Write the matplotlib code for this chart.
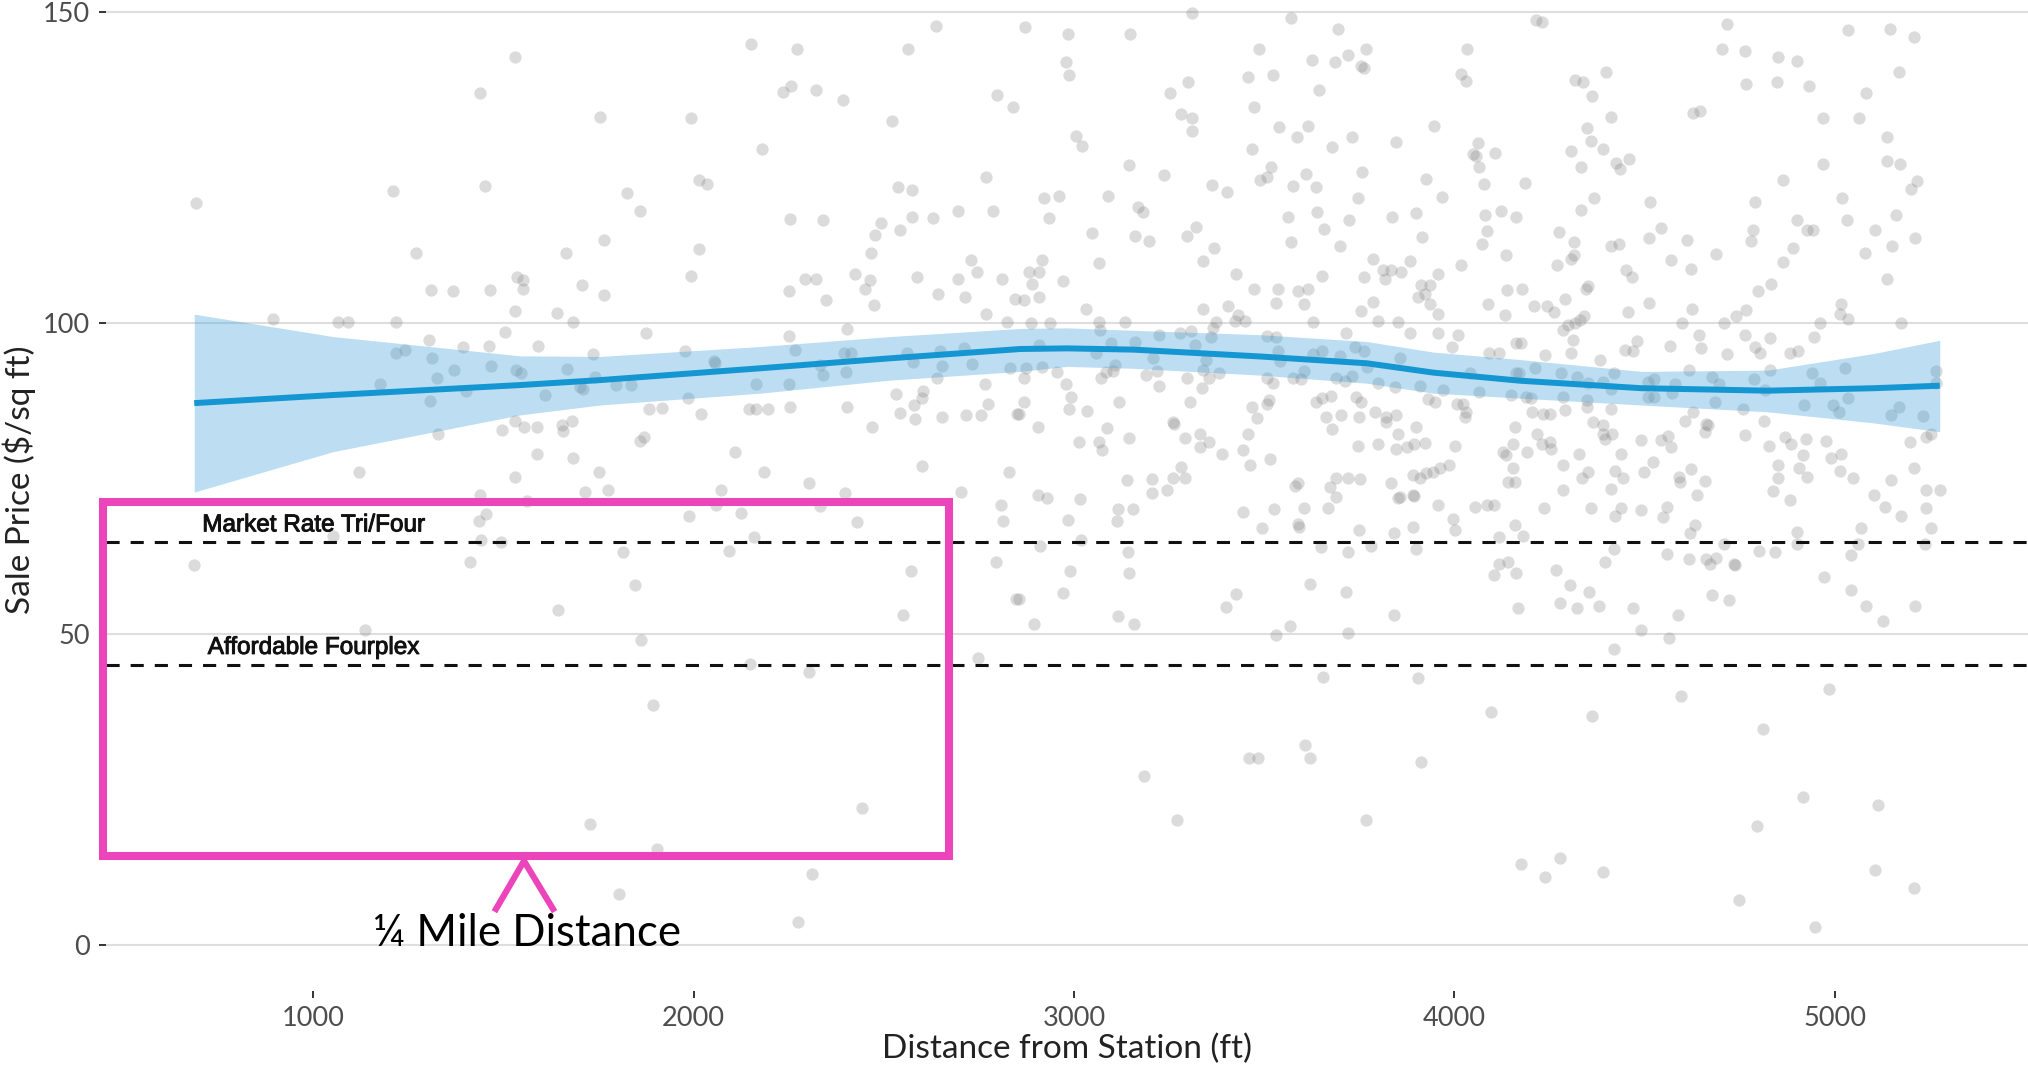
import numpy as np
import matplotlib.pyplot as plt
import matplotlib.patheffects as pe
from matplotlib.patches import Rectangle
from matplotlib.lines import Line2D

# sales, (distance from station ft, sale price $/sq ft)
band_near = [
    (1529, 142.7), (1437, 136.9), (1451, 122.0), (1210, 121.2), (691, 119.3), (1269, 111.2), (1536, 107.4),
    (1309, 105.3), (1367, 105.1), (1464, 105.3), (1529, 101.9), (893, 100.6), (1065, 100.1), (1091, 100.1),
    (1217, 100.1), (1503, 98.5), (1303, 97.3), (1394, 96.1), (1462, 96.3), (1240, 95.6), (1218, 95.1),
    (1311, 94.4), (1468, 93.1), (1369, 92.5), (1534, 92.5), (1324, 91.1), (1176, 90.1), (1401, 89.1),
    (1308, 87.5), (1531, 84.3), (1496, 82.7), (1328, 82.2), (1119, 76.1), (1529, 75.3), (1437, 72.3),
    (686, 61.1), (1052, 65.7), (1453, 69.2), (1435, 68.1), (1440, 65.1), (1493, 64.7), (1413, 61.6),
    (1135, 50.7),
]

band_mid = [
    (2151, 144.8), (2272, 144.0), (2637, 147.8), (2563, 144.0), (2236, 137.1), (2256, 138.0), (2321, 137.4),
    (2392, 135.9), (1754, 133.1), (1992, 132.9), (2521, 132.4), (2179, 128.0), (2797, 136.6), (2840, 134.7),
    (1824, 120.9), (1860, 118.0), (2014, 123.0), (2036, 122.4), (2537, 121.8), (2574, 121.3), (2768, 123.5),
    (1765, 113.3), (1664, 111.2), (2014, 111.8), (2253, 116.7), (2341, 116.6), (2492, 116.1), (2477, 114.2),
    (2543, 115.0), (2574, 117.0), (2630, 116.8), (2695, 118.0), (2787, 118.0), (2466, 111.2), (2728, 110.1),
    (2745, 108.1), (2810, 107.0), (1551, 106.9), (1551, 105.4), (1706, 106.1), (1765, 104.4), (1994, 107.6),
    (2251, 105.1), (2293, 107.0), (2321, 107.0), (2424, 107.8), (2464, 106.9), (2451, 105.4), (2347, 103.6),
    (2475, 102.8), (2586, 107.3), (2643, 104.6), (2695, 107.0), (2714, 104.1), (2844, 103.8), (1641, 101.6),
    (1684, 100.1), (2768, 101.5), (2823, 100.2), (1874, 98.4), (1591, 96.3), (1735, 95.0), (1977, 95.5),
    (2251, 97.9), (2403, 99.0), (2267, 95.7), (2396, 95.2), (2413, 95.2), (2562, 95.2), (2647, 95.5),
    (2711, 96.0), (1545, 92.0), (1666, 92.6), (1741, 91.3), (2053, 93.9), (2056, 93.5), (1701, 89.7),
    (1708, 89.3), (1795, 90.0), (1835, 90.0), (1610, 88.4), (2164, 90.1), (2251, 90.1), (2339, 91.6),
    (2332, 93.2), (2400, 92.1), (2577, 93.7), (2652, 93.1), (2731, 93.4), (2639, 91.1), (2831, 92.8),
    (2767, 90.1), (1984, 88.0), (1883, 86.1), (1918, 86.3), (2018, 85.3), (2145, 86.1), (2164, 86.1),
    (2196, 86.1), (2254, 86.4), (2403, 86.5), (2533, 88.5), (2543, 85.5), (2578, 86.8), (2600, 88.0),
    (2602, 89.1), (2582, 84.6), (2653, 84.9), (2717, 85.2), (2755, 85.2), (2773, 87.0), (2849, 85.4),
    (1554, 83.3), (1587, 83.2), (1655, 83.6), (1657, 82.6), (1679, 84.3), (1859, 81.0), (1870, 81.7),
    (2470, 83.3), (1587, 78.9), (1683, 78.3), (2109, 79.2), (1752, 76.0), (2186, 76.0), (2599, 77.0),
    (2829, 76.0), (2304, 74.2), (1715, 72.8), (1776, 73.1), (2071, 73.1), (2399, 72.7), (2704, 72.8),
    (1561, 71.4), (2060, 70.8), (2332, 70.6), (2807, 70.7), (1988, 68.9), (2124, 69.5), (2430, 68.0),
    (2812, 68.1), (2159, 65.5), (1813, 63.1), (2094, 63.4), (2794, 61.5), (2572, 60.1), (1847, 57.8),
    (1643, 53.9), (2551, 53.1), (2848, 55.6), (1862, 49.1), (2147, 45.1), (2304, 43.9), (2748, 46.2),
    (1893, 38.5), (2442, 22.0), (1727, 19.4), (1904, 15.5), (2311, 11.4), (1803, 8.2), (2274, 3.7),
]

band_far = [
    (3311, 149.8), (3570, 149.0), (2872, 147.5), (2985, 146.5), (3148, 146.5), (3694, 147.2), (2978, 142.0),
    (2987, 139.9), (3487, 144.0), (3625, 142.2), (3686, 141.9), (3721, 143.1), (3768, 144.0), (3755, 141.3),
    (3763, 140.9), (4034, 144.0), (4018, 140.0), (4031, 138.8), (3458, 139.5), (3523, 139.9), (3300, 138.7),
    (3252, 137.0), (3644, 137.4), (3472, 134.7), (3282, 133.5), (3311, 133.0), (3311, 130.8), (3540, 131.5),
    (3585, 129.9), (3616, 131.6), (3732, 129.9), (3678, 128.3), (3847, 129.0), (3946, 131.7), (3467, 128.0),
    (3005, 130.0), (3021, 128.5), (3145, 125.4), (3237, 123.7), (3488, 123.0), (3506, 123.5), (3519, 125.1),
    (3576, 122.0), (3611, 124.0), (3635, 121.8), (3758, 124.3), (3746, 120.0), (3926, 123.1), (3967, 120.2),
    (4062, 128.9), (4049, 127.1), (4058, 126.9), (4065, 125.0), (4107, 127.3), (4077, 122.3), (3363, 122.2),
    (3401, 121.0), (2922, 120.0), (2961, 120.4), (2933, 116.8), (3089, 120.4), (3169, 118.6), (3182, 117.8),
    (3046, 114.4), (3160, 114.0), (3197, 113.1), (3298, 114.0), (3320, 115.4), (3367, 112.0), (3339, 110.0),
    (3425, 107.9), (3562, 117.0), (3639, 117.8), (3656, 115.1), (3724, 116.6), (3570, 113.0), (3699, 112.3),
    (3836, 117.0), (3900, 117.7), (3915, 113.8), (4081, 117.3), (4086, 114.8), (4073, 112.7), (4123, 118.0),
    (4135, 110.9), (4017, 109.3), (3785, 110.3), (3882, 109.9), (3812, 108.5), (3834, 108.5), (3859, 108.1),
    (3817, 107.0), (3956, 107.9), (3911, 106.1), (3937, 106.1), (3922, 104.7), (3904, 104.1), (3937, 103.1),
    (3958, 101.4), (3763, 107.3), (3651, 107.6), (3786, 103.3), (3755, 101.9), (3472, 105.4), (3536, 105.4),
    (3531, 103.2), (3589, 105.1), (3615, 105.4), (3605, 103.1), (3339, 102.2), (3405, 102.7), (3431, 101.2),
    (3449, 100.3), (3423, 100.3), (3374, 100.2), (3366, 99.1), (4139, 105.3), (4088, 103.1), (4132, 101.3),
    (2882, 108.2), (2908, 108.1), (2915, 110.1), (2890, 106.3), (2970, 106.7), (3066, 109.7), (2868, 103.7),
    (2908, 104.1), (3031, 102.2), (2888, 100.0), (2938, 100.0), (3066, 100.2), (3068, 98.8), (3134, 100.1),
    (3627, 100.1), (3800, 100.3), (3853, 100.2), (3224, 98.0), (3278, 98.3), (3307, 98.7), (3716, 98.3),
    (3884, 98.3), (3958, 98.3), (4010, 98.1), (3994, 96.2), (3506, 97.9), (3530, 97.7), (3359, 97.8),
    (2908, 96.4), (3098, 96.7), (3160, 97.0), (3318, 96.4), (3738, 96.2), (3763, 95.5), (4090, 95.2),
    (4117, 95.2), (4163, 96.7), (3059, 95.1), (3208, 94.4), (3348, 94.0), (3535, 95.4), (3541, 93.9),
    (3628, 95.0), (3653, 95.5), (3700, 94.7), (3858, 94.3), (2875, 92.8), (2917, 92.9), (2956, 92.1),
    (2868, 91.1), (3072, 91.1), (3085, 92.1), (3107, 93.2), (3103, 92.2), (3188, 91.7), (3217, 92.2),
    (3224, 89.9), (3296, 91.2), (3339, 92.4), (3355, 91.2), (3380, 92.0), (3337, 89.6), (3506, 91.1),
    (3522, 90.3), (3576, 91.1), (3598, 90.9), (3604, 92.3), (3690, 91.2), (3712, 90.7), (3732, 91.5),
    (3769, 92.9), (3799, 90.3), (3843, 89.7), (3909, 89.9), (3970, 89.2), (4042, 92.0), (4064, 88.9),
    (4161, 92.0), (4150, 88.4), (2980, 90.1), (2991, 88.1), (2988, 86.2), (2869, 87.3), (2856, 85.4),
    (3035, 85.9), (3119, 87.2), (3306, 87.2), (3468, 86.5), (3481, 84.7), (3506, 87.0), (3513, 87.6),
    (3635, 87.2), (3653, 87.9), (3675, 88.3), (3742, 88.1), (3755, 87.2), (3931, 87.7), (3948, 87.2),
    (4007, 86.9), (4023, 87.0), (4031, 85.6), (4027, 84.9), (2906, 83.3), (3087, 83.1), (3013, 80.8),
    (3066, 80.8), (3074, 79.6), (3145, 81.5), (3261, 84.0), (3263, 83.8), (3291, 81.5), (3331, 82.2),
    (3355, 80.9), (3331, 80.1), (3388, 78.9), (3444, 79.6), (3458, 82.1), (3462, 77.1), (3515, 78.1),
    (3663, 84.9), (3703, 85.2), (3677, 83.0), (3749, 84.9), (3792, 85.7), (3819, 84.1), (3847, 85.2),
    (3819, 84.9), (3900, 83.2), (3852, 82.1), (3747, 80.2), (3799, 80.5), (3847, 79.7), (3875, 80.1),
    (3894, 80.6), (3924, 80.7), (4001, 80.2), (4128, 79.2), (4135, 78.7), (4154, 80.6), (4158, 83.3),
    (4154, 76.6), (4158, 74.4), (4141, 74.4), (3138, 74.7), (3206, 74.9), (3205, 72.6), (3245, 73.2),
    (3261, 75.1), (3280, 76.8), (3291, 75.0), (3580, 73.8), (3590, 74.3), (3672, 73.6), (3690, 75.1),
    (3720, 75.0), (3753, 74.9), (3834, 74.3), (3891, 75.5), (3909, 75.1), (3926, 75.9), (3944, 76.1),
    (3963, 76.6), (3985, 77.2), (2906, 72.3), (2928, 71.8), (3015, 71.7), (3856, 72.0), (3891, 72.3),
    (2985, 68.3), (3116, 70.1), (3112, 68.1), (3154, 70.1), (2910, 64.2), (3017, 65.1), (3142, 63.1),
    (3145, 59.8), (2990, 60.1), (2854, 55.6), (2971, 56.6), (2894, 51.6), (3115, 52.9), (3157, 51.6),
    (3444, 69.6), (3526, 70.1), (3494, 67.1), (3604, 70.2), (3589, 67.7), (3591, 67.2), (3668, 70.2),
    (3688, 72.0), (3748, 66.7), (3853, 71.9), (3894, 72.2), (3957, 70.8), (3996, 68.4), (4001, 66.7),
    (3890, 67.2), (3841, 66.2), (4053, 70.4), (4086, 70.7), (4103, 70.8), (4117, 65.5), (4158, 67.5),
    (4116, 61.3), (4141, 61.6), (4103, 59.5), (4161, 59.8), (4167, 54.2), (3650, 63.9), (3719, 63.1),
    (3782, 64.1), (3898, 63.7), (3620, 58.1), (3714, 56.8), (3840, 53.1), (3399, 54.4), (3425, 56.4),
    (3530, 49.8), (3567, 51.2), (3720, 50.1), (3655, 43.0), (3904, 42.9), (4097, 37.4), (3460, 30.1),
    (3484, 30.1), (3607, 32.1), (3620, 30.1), (3911, 29.4), (3183, 27.1), (3271, 20.1), (3767, 20.1),
]

band_edge = [
    (4215, 148.7), (4230, 148.3), (4717, 148.0), (5036, 147.0), (5146, 147.3), (5208, 146.0), (4703, 144.0),
    (4763, 143.7), (4852, 142.8), (4901, 142.1), (4316, 139.0), (4338, 138.7), (4399, 140.3), (4361, 136.5),
    (4767, 138.4), (4847, 138.7), (4933, 138.0), (5169, 140.4), (5083, 137.0), (4627, 133.8), (4645, 134.1),
    (4413, 133.1), (4349, 131.4), (4970, 133.0), (5064, 132.9), (4360, 129.2), (4390, 128.0), (4307, 127.7),
    (5138, 129.9), (4426, 125.7), (4436, 124.7), (4458, 126.3), (4333, 125.0), (4970, 125.5), (5136, 126.0),
    (5171, 125.6), (4185, 122.5), (4863, 123.0), (5217, 122.8), (5201, 121.5), (4367, 120.0), (4333, 118.1),
    (4513, 119.5), (4789, 119.5), (5019, 120.0), (4163, 117.0), (5162, 117.3), (5032, 116.5), (4900, 116.5),
    (4927, 115.0), (4943, 115.0), (4784, 115.0), (4780, 113.1), (5105, 115.0), (4542, 115.2), (4511, 113.7),
    (4275, 114.6), (4314, 113.0), (4413, 112.4), (4434, 112.6), (4611, 113.3), (5212, 113.7), (5151, 112.4),
    (4891, 112.0), (4314, 110.9), (4307, 110.2), (4270, 109.3), (4689, 111.0), (4570, 110.1), (4865, 109.8),
    (5080, 111.2), (4623, 108.6), (4452, 108.5), (4467, 107.3), (4833, 106.3), (5136, 107.1), (4179, 105.4),
    (4351, 105.9), (4345, 105.5), (4798, 105.2), (4290, 103.8), (4209, 102.7), (4244, 102.7), (4262, 101.7),
    (4456, 101.8), (4511, 103.2), (4625, 102.2), (4767, 102.0), (4741, 101.1), (5017, 103.1), (5015, 101.5),
    (5034, 100.6), (4342, 101.1), (4329, 100.4), (4316, 99.9), (4299, 99.6), (4286, 98.9), (4598, 99.9),
    (4710, 100.0), (4960, 100.0), (5173, 100.0), (4174, 96.8), (4312, 97.3), (4642, 98.1), (4649, 96.0),
    (4763, 98.1), (4831, 97.6), (4945, 97.8), (4789, 96.1), (4804, 95.1), (4481, 97.1), (4449, 95.7),
    (4470, 95.5), (4568, 96.3), (4717, 95.0), (4881, 95.2), (4903, 95.4), (4307, 95.2), (4239, 94.8),
    (4382, 94.1), (4211, 92.8), (4170, 92.0), (4279, 91.9), (4323, 91.3), (4351, 90.4), (4420, 92.0),
    (4391, 90.5), (4411, 89.3), (4509, 90.5), (4526, 91.0), (4509, 88.1), (4524, 88.1), (4581, 90.2),
    (4572, 88.7), (4618, 92.5), (4677, 91.3), (4695, 90.2), (4686, 87.3), (4787, 91.0), (4830, 92.4),
    (4816, 89.2), (4940, 92.0), (4962, 90.3), (5028, 92.8), (5035, 88.0), (5265, 92.3), (5267, 90.4),
    (4189, 88.1), (4201, 87.9), (4286, 88.1), (4349, 87.6), (4349, 86.4), (4290, 86.0), (4204, 85.6),
    (4233, 85.4), (4251, 85.3), (4413, 86.2), (4627, 85.6), (4605, 84.2), (4759, 86.1), (4813, 84.2),
    (4918, 86.8), (4995, 86.8), (5011, 85.6), (5147, 85.2), (5170, 86.5), (5232, 85.0), (5253, 82.2),
    (5239, 81.6), (5198, 80.9), (4364, 84.0), (4391, 83.6), (4391, 82.1), (4395, 81.3), (4414, 82.2),
    (4218, 82.1), (4229, 80.5), (4251, 80.9), (4255, 79.8), (4191, 79.2), (4328, 79.0), (4439, 78.9),
    (4490, 81.1), (4544, 81.1), (4561, 81.8), (4570, 80.1), (4662, 83.8), (4667, 83.6), (4660, 82.4),
    (4765, 81.9), (4827, 80.2), (4868, 81.7), (4886, 80.5), (4925, 81.3), (4916, 78.7), (4978, 81.0),
    (4989, 78.2), (5017, 79.0), (4286, 77.1), (4335, 75.0), (4351, 76.1), (4421, 76.2), (4443, 75.1),
    (4498, 76.1), (4522, 77.6), (4590, 75.3), (4592, 74.4), (4623, 76.5), (4658, 74.6), (4852, 77.2),
    (4852, 75.1), (4905, 76.7), (4928, 75.3), (5013, 76.2), (5048, 75.1), (5148, 74.8), (5207, 76.6),
    (4286, 73.1), (4413, 73.3), (4837, 73.0), (5102, 72.3), (5240, 73.1), (5277, 73.1), (4639, 72.4),
    (4881, 71.6), (4236, 70.2), (4360, 70.2), (4423, 69.0), (4439, 70.2), (4491, 69.9), (4548, 68.8),
    (4559, 70.4), (4632, 67.5), (4619, 66.2), (5131, 70.4), (5175, 69.0), (5240, 70.2), (5254, 67.1),
    (5070, 67.0), (5061, 64.4), (5043, 62.7), (5236, 64.4), (4901, 66.4), (4901, 64.5), (4710, 64.5),
    (4802, 63.4), (4842, 63.1), (4180, 65.7), (4420, 63.6), (4395, 61.5), (4266, 60.2), (4303, 57.8),
    (4353, 56.8), (4277, 54.9), (4322, 54.2), (4379, 54.5), (4470, 54.2), (4491, 50.6), (4559, 62.8),
    (4618, 62.0), (4662, 62.0), (4671, 61.3), (4689, 62.2), (4734, 61.3), (4738, 61.1), (4677, 56.3),
    (4723, 55.4), (4588, 53.1), (4564, 49.4), (4420, 47.5), (4972, 59.1), (5043, 57.1), (5081, 54.5),
    (5127, 52.1), (5212, 54.5), (4985, 41.1), (4597, 40.1), (4361, 36.8), (4811, 34.7), (4916, 23.8),
    (5113, 22.5), (4795, 19.1), (4176, 13.0), (4237, 11.0), (4277, 14.0), (4391, 11.8), (5106, 12.0),
    (5207, 9.1), (4748, 7.2), (4948, 2.9),
]

# smoothed fit and its band
fit_dist = [687, 1052, 1543, 1754, 2175, 2516, 2859, 2981, 3156, 3489, 3770, 3945, 4173, 4491, 4824, 5105, 5276]
fit_mid = [87.1, 88.4, 90.0, 90.8, 92.7, 94.3, 95.8, 95.9, 95.7, 94.6, 93.5, 92.0, 90.7, 89.5, 89.1, 89.5, 89.9]
fit_lo = [72.8, 79.3, 85.2, 86.8, 88.7, 90.8, 92.2, 93.0, 92.7, 91.6, 90.3, 88.7, 87.9, 86.8, 85.7, 83.9, 82.5]
fit_hi = [101.4, 97.8, 94.7, 94.6, 96.2, 97.8, 99.1, 99.2, 98.8, 98.1, 97.0, 95.3, 94.1, 92.2, 92.4, 95.1, 97.2]

ref_levels = [64.7, 45.0]
ref_names = ['Market Rate Tri/Four', 'Affordable Fourplex']

x_ticks = [1000, 2000, 3000, 4000, 5000]
y_ticks = [0, 50, 100, 150]

W, H = 2028, 1067
fig = plt.figure(figsize=(W / 100, H / 100), dpi=100)
ax = fig.add_axes([106 / W, 76 / H, 1 - 106 / W, 991 / H])

pts = np.array(band_near + band_mid + band_far + band_edge)
ax.scatter(pts[:, 0], pts[:, 1], s=78, c='#7f7f7f', alpha=0.28, linewidths=0, zorder=2)

ax.fill_between(fit_dist, fit_lo, fit_hi, color='#3fa0dc', alpha=0.35, lw=0, zorder=3)
ax.plot(fit_dist, fit_mid, color='#1496d2', lw=4.3, zorder=4, solid_capstyle='butt')

# thin stroke so the labels read as heavy as the original
heavy = [pe.withStroke(linewidth=0.7, foreground='#111111')]
for lvl, name in zip(ref_levels, ref_names):
    ax.axhline(lvl, color='#111111', lw=2.2, ls=(0, (4.3, 3.6)), zorder=5)
    ax.text(1000, lvl + 2.75, name, ha='center', va='center', fontsize=17.5,
            family='Liberation Sans', color='#111111', zorder=6, path_effects=heavy)

ax.set_xlim(455, 5508)
ax.set_ylim(-7.4, 151.9)
ax.set_xticks(x_ticks)
ax.set_yticks(y_ticks)
for s in ax.spines.values():
    s.set_visible(False)
ax.yaxis.grid(True, color='#dedede', lw=1.5)
ax.xaxis.grid(False)
ax.set_axisbelow(True)

ax.tick_params(axis='both', length=5, width=1.4, color='#333333', labelsize=19.5, labelcolor='#4d4d4d')
ax.tick_params(axis='y', pad=6.5)
ax.tick_params(axis='x', pad=5.5)
for lab in ax.get_xticklabels() + ax.get_yticklabels():
    lab.set_family('Lato')

ax.set_xlabel('Distance from Station (ft)', fontsize=24, family='Lato', color='#222222', va='center')
ax.xaxis.set_label_coords(0.5, -0.0585)
ax.set_ylabel('Sale Price ($/sq ft)', fontsize=24, family='Lato', color='#222222', va='center')
ax.yaxis.set_label_coords(-0.0453, 0.5156)

# pink callout drawn over the chart
pink = '#ec45bb'
fig.add_artist(Rectangle((103 / W, 1 - 856 / H), (949 - 103) / W, (856 - 502) / H,
                         transform=fig.transFigure, fill=False, ec=pink, lw=5.8, zorder=10))
fig.add_artist(Line2D([496 / W, 524 / W, 553 / W], [1 - 909 / H, 1 - 861 / H, 1 - 909 / H],
                      transform=fig.transFigure, color=pink, lw=4.5, solid_joinstyle='miter', zorder=10))
fig.text(527 / W, 1 - 933 / H, '¼ Mile Distance', family=['Lato', 'DejaVu Sans'], fontsize=31.5,
         ha='center', va='center', color='black')

fig.savefig('out.png', dpi=100)
